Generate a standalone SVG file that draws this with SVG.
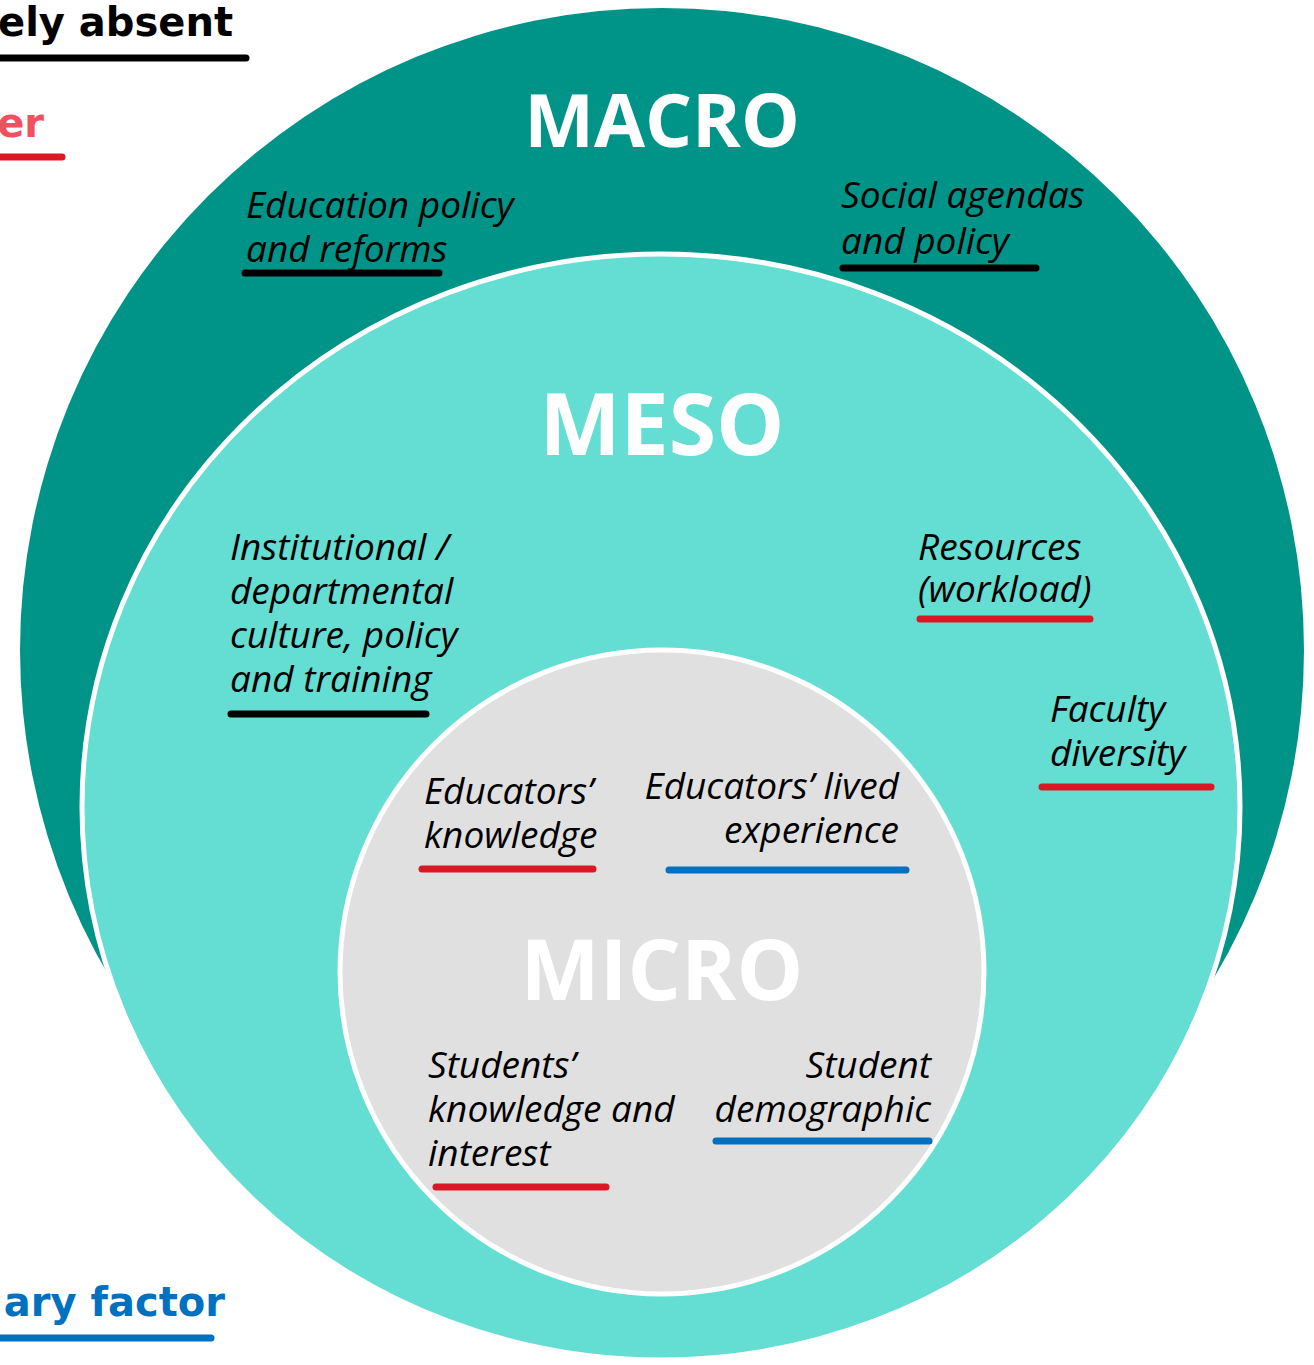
<svg xmlns="http://www.w3.org/2000/svg" width="1314" height="1365" viewBox="0 0 1314 1365">
<style>
.lvl{font-family:"Open Sans","Liberation Sans",sans-serif;font-weight:700;fill:#ffffff;text-anchor:middle}
.fac{font-family:"Open Sans","Liberation Sans",sans-serif;font-style:italic;font-size:37px;fill:#000000}
.end{text-anchor:end}
.leg{font-family:"DejaVu Sans","Liberation Sans",sans-serif;font-weight:700;font-size:40px;text-anchor:end}
.ul{stroke-linecap:round;stroke-width:7;fill:none}
.k{stroke:#000000}.r{stroke:#DA1825}.b{stroke:#0070C0}
</style>
<rect width="1314" height="1365" fill="#ffffff"/>
<g id="legend">
<text class="leg" x="233" y="36" fill="#000000">ely absent</text>
<line class="ul k" x1="-10" y1="58" x2="246" y2="58" stroke-width="8"/>
<text class="leg" x="44" y="137" fill="#F0505F">er</text>
<line class="ul r" x1="-10" y1="157" x2="62" y2="157"/>
<text class="leg" x="225" y="1316" fill="#0070C0">ary factor</text>
<line class="ul b" x1="-10" y1="1338" x2="211" y2="1338"/>
</g>
<g id="macro">
<circle cx="662" cy="650" r="642" fill="#009388"/>
<text class="lvl" x="662" y="147" font-size="74">MACRO</text>
<text class="fac" x="246" y="218">Education policy</text>
<text class="fac" x="246" y="262">and reforms</text>
<line class="ul k" x1="245" y1="273" x2="439" y2="273"/>
<text class="fac" x="841" y="208">Social agendas</text>
<text class="fac" x="841" y="254">and policy</text>
<line class="ul k" x1="843" y1="268" x2="1036" y2="268"/>
</g>
<g id="meso">
<ellipse cx="661" cy="807" rx="579" ry="553" fill="#64DDD2" stroke="#ffffff" stroke-width="5"/>
<text class="lvl" x="662" y="455" font-size="86">MESO</text>
<text class="fac" x="230" y="560">Institutional /</text>
<text class="fac" x="230" y="604">departmental</text>
<text class="fac" x="230" y="648">culture, policy</text>
<text class="fac" x="230" y="692">and training</text>
<line class="ul k" x1="231" y1="714" x2="426" y2="714"/>
<text class="fac" x="918" y="560">Resources</text>
<text class="fac" x="918" y="602">(workload)</text>
<line class="ul r" x1="920" y1="619" x2="1090" y2="619"/>
<text class="fac" x="1050" y="722">Faculty</text>
<text class="fac" x="1050" y="766">diversity</text>
<line class="ul r" x1="1042" y1="787" x2="1211" y2="787"/>
</g>
<g id="micro">
<circle cx="662" cy="972" r="322" fill="#E0E0E0" stroke="#ffffff" stroke-width="5"/>
<text class="lvl" x="662" y="1000" font-size="84">MICRO</text>
<text class="fac" x="424" y="804">Educators’</text>
<text class="fac" x="424" y="848">knowledge</text>
<line class="ul r" x1="422" y1="869" x2="593" y2="869"/>
<text class="fac end" x="899" y="799">Educators’ lived</text>
<text class="fac end" x="899" y="843">experience</text>
<line class="ul b" x1="669" y1="870" x2="906" y2="870"/>
<text class="fac" x="428" y="1078">Students’</text>
<text class="fac" x="428" y="1122">knowledge and</text>
<text class="fac" x="428" y="1166">interest</text>
<line class="ul r" x1="436" y1="1187" x2="606" y2="1187"/>
<text class="fac end" x="931" y="1078">Student</text>
<text class="fac end" x="931" y="1122">demographic</text>
<line class="ul b" x1="716" y1="1141" x2="929" y2="1141"/>
</g>
</svg>
